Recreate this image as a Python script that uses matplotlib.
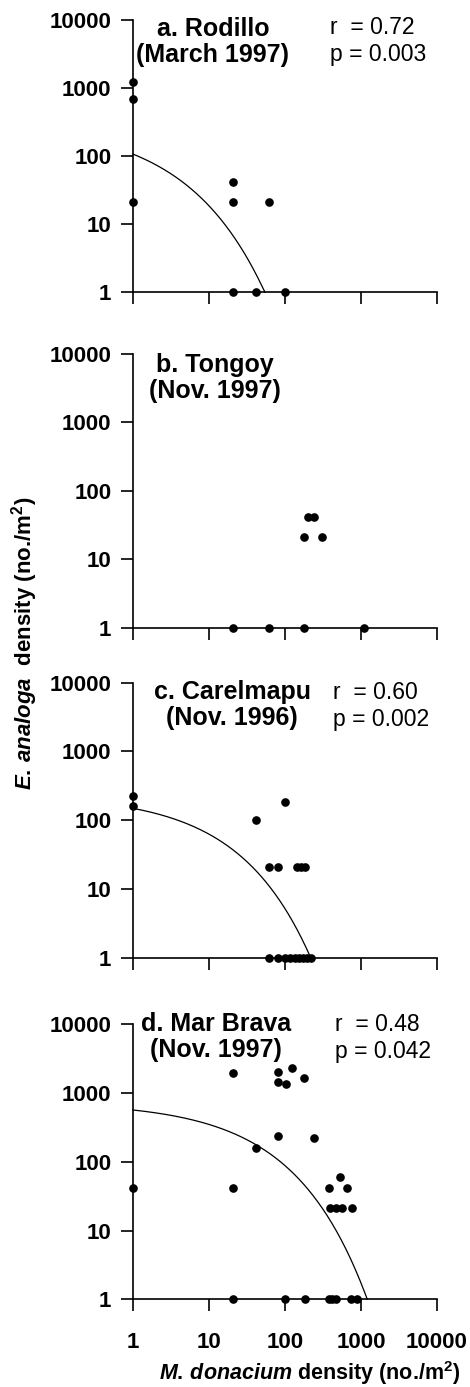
import matplotlib
matplotlib.use('Agg')
from matplotlib import pyplot as plt
from matplotlib.ticker import FixedLocator, FixedFormatter
import numpy as np

# axis ticks
tick_vals = [1, 10, 100, 1000, 10000]
tick_labels = ['1', '10', '100', '1000', '10000']

# a. Rodillo
a_x = [1, 1, 1, 21, 21, 61, 21, 41, 100]
a_y = [1240, 680, 21, 42, 21, 21, 1, 1, 1]

# b. Tongoy
b_x = [203, 238, 180, 304, 21, 61, 180, 1106]
b_y = [41, 41, 21, 21, 1, 1, 1, 1]

# c. Carelmapu
c_x = [1, 1, 41, 100, 61, 82, 143, 162, 183,
       61, 82, 101, 118, 137, 155, 175, 196, 222]
c_y = [223, 163, 101, 182, 21, 21, 21, 21, 21,
       1, 1, 1, 1, 1, 1, 1, 1, 1]

# d. Mar Brava
d_x = [1, 21, 21, 21, 41, 82, 82, 102, 122, 180, 82, 238, 379, 535, 649,
       391, 470, 555, 760, 101, 181, 379, 420, 464, 731, 877]
d_y = [41, 1980, 41, 1, 159, 2040, 1460, 1370, 2340, 1670, 237, 219, 41, 61, 41,
       21, 21, 21, 21, 1, 1, 1, 1, 1, 1, 1]

# fitted curves: log10(y) = fit_a - fit_b * x**fit_p, drawn from x=1 to fit_end
# (None for panel b, which has no fit)
fit_a = [2.496, None, 2.372, 2.867]
fit_b = [0.466, None, 0.1994, 0.1135]
fit_p = [0.42, None, 0.46, 0.455]
fit_end = [54.6, None, 218, 1210]

titles = ['a. Rodillo\n(March 1997)', 'b. Tongoy\n(Nov. 1997)',
          'c. Carelmapu\n(Nov. 1996)', 'd. Mar Brava\n(Nov. 1997)']
stats = ['r  = 0.72\np = 0.003', None, 'r  = 0.60\np = 0.002', 'r  = 0.48\np = 0.042']

plt.rcParams['font.family'] = ['Liberation Sans', 'DejaVu Sans']
plt.rcParams['mathtext.fontset'] = 'custom'
plt.rcParams['mathtext.rm'] = 'Liberation Sans:bold'
plt.rcParams['mathtext.bf'] = 'Liberation Sans:bold'
plt.rcParams['mathtext.it'] = 'Liberation Sans:italic:bold'

W, H = 470, 1387
fig = plt.figure(figsize=(W / 100, H / 100), dpi=100)

def px(x, y):
    return x / W, 1 - y / H

# pixel boxes: (top, bottom) of each panel
boxes = [(20, 292.3), (354, 627.7), (682.7, 957.7), (1024.3, 1299.3)]
title_pos = [(213, 42), (215, 378), (232, 705), (216, 1037)]
stat_pos = [(330, 41), None, (333, 706), (335, 1038)]

panels = [(a_x, a_y), (b_x, b_y), (c_x, c_y), (d_x, d_y)]

for i, (xs, ys) in enumerate(panels):
    top, bot = boxes[i]
    ax = fig.add_axes([133 / W, 1 - bot / H, 304 / W, (bot - top) / H])
    ax.set_xscale('log')
    ax.set_yscale('log')
    ax.set_xlim(1, 10000)
    ax.set_ylim(1, 10000)
    if fit_a[i] is not None:
        fx = np.geomspace(1, fit_end[i], 200)
        fy = 10 ** (fit_a[i] - fit_b[i] * fx ** fit_p[i])
        ax.plot(fx, np.maximum(fy, 1), color='black', linewidth=0.9, clip_on=False)
    ax.plot(xs, ys, 'o', color='black', markersize=5.2, clip_on=False, zorder=5)
    for s in ['top', 'right']:
        ax.spines[s].set_visible(False)
    for s in ['left', 'bottom']:
        ax.spines[s].set_linewidth(1.2)
    ax.xaxis.set_major_locator(FixedLocator(tick_vals))
    ax.yaxis.set_major_locator(FixedLocator(tick_vals))
    ax.xaxis.set_minor_locator(FixedLocator([]))
    ax.yaxis.set_minor_locator(FixedLocator([]))
    ax.yaxis.set_major_formatter(FixedFormatter(tick_labels))
    ax.xaxis.set_major_formatter(FixedFormatter(tick_labels))
    ax.tick_params(axis='both', direction='out', length=8.6, width=1.2)
    ax.tick_params(axis='y', pad=7, labelsize=16)
    ax.tick_params(axis='x', pad=15, labelsize=16, labelbottom=(i == 3))
    for lab in ax.get_xticklabels() + ax.get_yticklabels():
        lab.set_fontweight('bold')

    tx, ty = px(*title_pos[i])
    fig.text(tx, ty, titles[i], ha='center', va='center', multialignment='center',
             fontsize=18, fontweight='bold', linespacing=1.15)
    if stats[i] is not None:
        sx, sy = px(*stat_pos[i])
        fig.text(sx, sy, stats[i], ha='left', va='center', fontsize=16.5,
                 linespacing=1.2)

lx, ly = px(25, 643)
fig.text(lx, ly, r'$\mathit{E.\,analoga}$  density (no./m$^{2}$)', rotation=90,
         ha='center', va='center', fontsize=16, fontweight='bold')
lx, ly = px(310, 1373)
fig.text(lx, ly, r'$\mathit{M.\,donacium}$ density (no./m$^{2}$)',
         ha='center', va='center', fontsize=15.5, fontweight='bold')

fig.savefig('out.png', dpi=100)
